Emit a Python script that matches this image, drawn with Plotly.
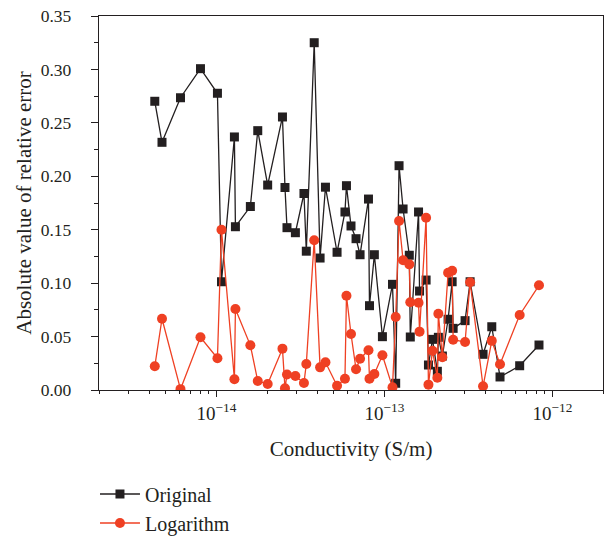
import plotly.graph_objects as go

# Conductivity (S/m), log10 values
log_conductivity = [
    -14.367, -14.324, -14.214, -14.095, -13.994, -13.970, -13.893, -13.887,
    -13.798, -13.754, -13.695, -13.607, -13.592, -13.580, -13.530, -13.479,
    -13.465, -13.418, -13.383, -13.351, -13.282, -13.235, -13.226, -13.199,
    -13.169, -13.145, -13.095, -13.089, -13.060, -13.012, -12.952, -12.933,
    -12.913, -12.889, -12.852, -12.846, -12.797, -12.791, -12.752, -12.738,
    -12.714, -12.685, -12.679, -12.655, -12.621, -12.597, -12.591, -12.520,
    -12.490, -12.413, -12.361, -12.312, -12.195, -12.080,
]
conductivity = [10 ** v for v in log_conductivity]

original = [
    0.2702, 0.2318, 0.2735, 0.3007, 0.2777, 0.1013, 0.2368, 0.1528,
    0.1717, 0.2427, 0.1918, 0.2555, 0.1895, 0.1519, 0.1472, 0.1839,
    0.1299, 0.3250, 0.1235, 0.1898, 0.1289, 0.1666, 0.1912, 0.1535,
    0.1416, 0.1266, 0.1787, 0.0789, 0.1266, 0.0499, 0.0989, 0.0063,
    0.2099, 0.1694, 0.1261, 0.0496, 0.1666, 0.0926, 0.1029, 0.0234,
    0.0474, 0.0175, 0.0493, 0.0318, 0.0662, 0.1013, 0.0577, 0.0649,
    0.1013, 0.0334, 0.0592, 0.0122, 0.0227, 0.0421,
]

logarithm = [
    0.0222, 0.0667, 0.0008, 0.0493, 0.0297, 0.1500, 0.0100, 0.0758,
    0.0418, 0.0084, 0.0056, 0.0387, 0.0016, 0.0145, 0.0131, 0.0066,
    0.0243, 0.1401, 0.0212, 0.0260, 0.0040, 0.0106, 0.0882, 0.0524,
    0.0194, 0.0293, 0.0372, 0.0106, 0.0150, 0.0325, 0.0025, 0.0683,
    0.1582, 0.1214, 0.1176, 0.0821, 0.0817, 0.0546, 0.1612, 0.0050,
    0.0368, 0.0115, 0.0714, 0.0306, 0.1098, 0.1116, 0.0471, 0.0449,
    0.1008, 0.0035, 0.0460, 0.0241, 0.0702, 0.0980,
]

x_tick_vals = [1e-14, 1e-13, 1e-12]
x_tick_text = ["10<sup>−14</sup>", "10<sup>−13</sup>", "10<sup>−12</sup>"]
x_minor_ticks = [m * 10.0 ** e for e in (-15, -14, -13, -12) for m in range(2, 10)]
y_tick_vals = [0.00, 0.05, 0.10, 0.15, 0.20, 0.25, 0.30, 0.35]
y_tick_text = ["0.00", "0.05", "0.10", "0.15", "0.20", "0.25", "0.30", "0.35"]

BLACK = "#231f20"
RED = "#ef4023"
FONT = "Liberation Serif"

fig = go.Figure()
fig.add_trace(go.Scatter(
    x=conductivity, y=original, name="Original", mode="lines+markers",
    line=dict(color=BLACK, width=1.3),
    marker=dict(symbol="square", size=9, color=BLACK),
))
fig.add_trace(go.Scatter(
    x=conductivity, y=logarithm, name="Logarithm", mode="lines+markers",
    line=dict(color=RED, width=1.3),
    marker=dict(symbol="circle", size=10, color=RED),
))

fig.update_layout(
    width=608, height=538,
    margin=dict(l=99, r=5, t=16, b=148, autoexpand=False),
    paper_bgcolor="white", plot_bgcolor="white",
    font=dict(family=FONT, size=19, color=BLACK),
    showlegend=True,
    legend=dict(
        x=-0.008, y=-0.226, xanchor="left", yanchor="top",
        bgcolor="rgba(0,0,0,0)", font=dict(family=FONT, size=20, color=BLACK),
        tracegroupgap=0, itemwidth=40,
    ),
)
fig.update_xaxes(
    type="log", range=[-14.699, -11.699], automargin=False,
    tickvals=x_tick_vals, ticktext=x_tick_text,
    ticks="outside", ticklen=6, tickwidth=1.2, tickcolor=BLACK,
    ticklabeloverflow="allow",
    minor=dict(tickmode="array", tickvals=x_minor_ticks, ticks="outside",
               ticklen=3, tickwidth=1, tickcolor=BLACK, showgrid=False),
    showline=True, linecolor=BLACK, linewidth=1.3, mirror=True,
    showgrid=False, zeroline=False,
    title=dict(text="Conductivity (S/m)", font=dict(family=FONT, size=21, color=BLACK), standoff=18),
    tickfont=dict(family=FONT, size=19, color=BLACK),
)
fig.update_yaxes(
    range=[0, 0.35], automargin=False,
    tickvals=y_tick_vals, ticktext=y_tick_text,
    ticks="outside", ticklen=7, tickwidth=1.2, tickcolor=BLACK,
    ticklabelstandoff=16, ticklabeloverflow="allow",
    minor=dict(dtick=0.025, ticks="outside", ticklen=4, tickwidth=1, tickcolor=BLACK, showgrid=False),
    showline=True, linecolor=BLACK, linewidth=1.3, mirror=True,
    showgrid=False, zeroline=False,
    title=dict(text="Absolute value of relative error", font=dict(family=FONT, size=21, color=BLACK), standoff=3),
    tickfont=dict(family=FONT, size=17.5, color=BLACK),
)

fig.write_html(
    "out.html",
    config={"displayModeBar": False},
    post_script="document.body.style.margin='0px';document.body.style.overflow='hidden';",
)
